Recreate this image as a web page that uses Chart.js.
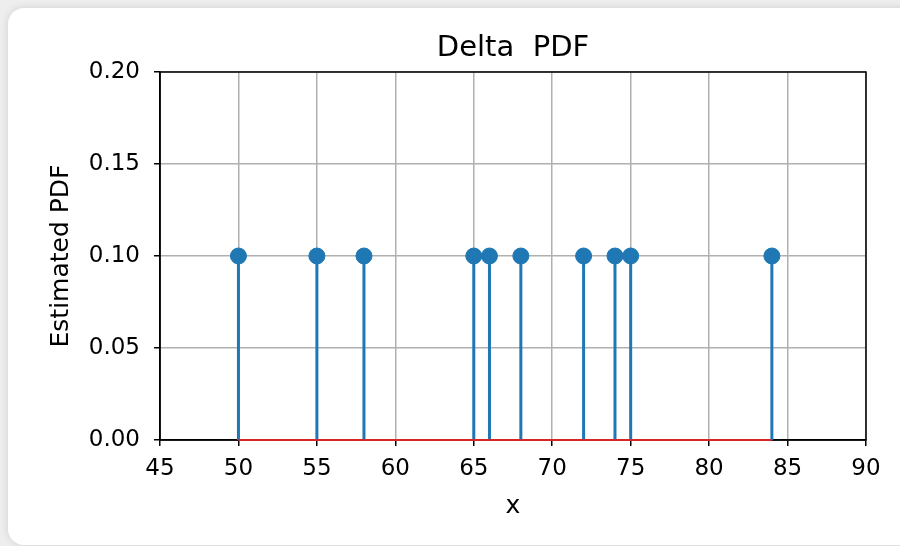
<!DOCTYPE html>
<html>
<head>
<meta charset="utf-8">
<script src="https://cdn.jsdelivr.net/npm/chart.js@4.4.1/dist/chart.umd.min.js"></script>
<style>
  html, body { margin: 0; padding: 0; width: 900px; height: 546px; overflow: hidden; background: #eeeeee; }
  .card { position: absolute; left: 8px; top: 8px; width: 920px; height: 537px; background: #fff;
          border-radius: 16px; box-shadow: 0 0 8px rgba(0,0,0,0.12); }
  #chart { position: absolute; left: 0; top: 0; }
</style>
</head>
<body>
<div class="card"></div>
<canvas id="chart" width="900" height="546"></canvas>
<script>
// sample positions (stem x) and estimated PDF heights
const xs = [50, 55, 58, 65, 66, 68, 72, 74, 75, 84];
const pdf = [0.1, 0.1, 0.1, 0.1, 0.1, 0.1, 0.1, 0.1, 0.1, 0.1];
const xTicks = [45, 50, 55, 60, 65, 70, 75, 80, 85, 90];
const yTicks = [0.00, 0.05, 0.10, 0.15, 0.20];

const blue = '#1f77b4';
const red = '#d62728';
const font = 'DejaVu Sans';

const stems = xs.map((x, i) => ({
  type: 'line',
  data: [{ x: x, y: 0 }, { x: x, y: pdf[i] }],
  borderColor: blue,
  borderWidth: 3,
  pointRadius: 0,
  order: 2
}));

const baseline = {
  type: 'line',
  data: [{ x: Math.min(...xs), y: 0 }, { x: Math.max(...xs), y: 0 }],
  borderColor: red,
  backgroundColor: red,
  borderWidth: 2,
  pointRadius: 0,
  fill: false,
  clip: false,
  order: 1
};

const markers = {
  type: 'scatter',
  data: xs.map((x, i) => ({ x: x, y: pdf[i] })),
  backgroundColor: blue,
  borderColor: blue,
  pointRadius: 8,
  order: 0
};

// top/right frame lines
const spines = {
  id: 'spines',
  beforeDatasetsDraw(chart) {
    const { ctx, chartArea: a } = chart;
    ctx.save();
    ctx.strokeStyle = '#000';
    ctx.lineWidth = 1.5;
    ctx.strokeRect(a.left, a.top, a.right - a.left, a.bottom - a.top);
    ctx.restore();
  }
};

new Chart(document.getElementById('chart'), {
  type: 'scatter',
  data: { datasets: [markers, ...stems, baseline] },
  options: {
    responsive: false,
    animation: false,
    layout: { padding: { left: 0, right: 34, top: 0, bottom: 0 } },
    plugins: {
      legend: { display: false },
      tooltip: { enabled: false },
      title: {
        display: true,
        text: 'Delta  PDF',
        fullSize: false,
        color: '#000',
        font: { family: font, size: 29, weight: 'normal', lineHeight: 1.2 },
        padding: { top: 30.6, bottom: 6.6 }
      }
    },
    scales: {
      x: {
        type: 'linear',
        min: 45,
        max: 90,
        afterFit(s) { s.height = 106; },
        afterBuildTicks(s) { s.ticks = xTicks.map(v => ({ value: v })); },
        ticks: { color: '#000', font: { family: font, size: 23 }, padding: 9, maxRotation: 0 },
        grid: { color: '#b0b0b0', lineWidth: 1.5, tickColor: '#000', tickLength: 6 },
        border: { display: true, color: '#000', width: 1.5 },
        title: {
          display: true, text: 'x', color: '#000',
          font: { family: font, size: 25, lineHeight: 1.2 },
          padding: { top: 0, bottom: 25 }
        }
      },
      y: {
        type: 'linear',
        min: 0,
        max: 0.2,
        afterFit(s) { s.width = 160; },
        afterBuildTicks(s) { s.ticks = yTicks.map(v => ({ value: v })); },
        ticks: { color: '#000', font: { family: font, size: 23 }, padding: 14,
                 callback: v => v.toFixed(2) },
        grid: { color: '#b0b0b0', lineWidth: 1.5, tickColor: '#000', tickLength: 6 },
        border: { display: true, color: '#000', width: 1.5 },
        title: {
          display: true, text: 'Estimated PDF', color: '#000',
          font: { family: font, size: 25, lineHeight: 1.2 },
          padding: { top: 46, bottom: 0 }
        }
      }
    }
  },
  plugins: [spines]
});
</script>
</body>
</html>
